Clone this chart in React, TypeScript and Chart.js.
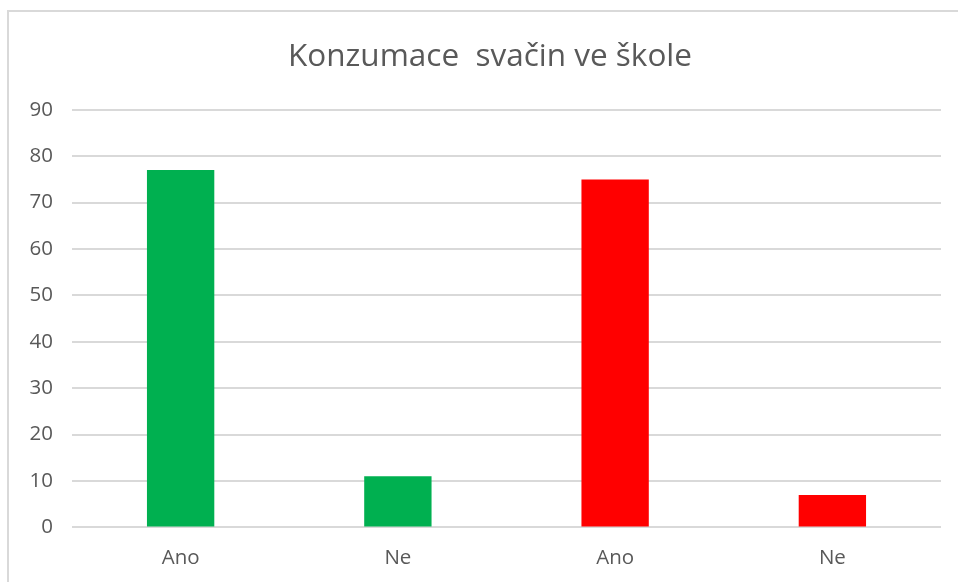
import React, { useEffect, useRef } from "react";
import { Chart, registerables } from "chart.js";

Chart.register(...registerables);

const categories = ["Ano", "Ne", "Ano", "Ne"];
const values = [77, 11, 75, 7];
const barColors = ["#00B050", "#00B050", "#FF0000", "#FF0000"];
const titleText = "Konzumace  svačin ve škole";
const yMin = 0;
const yMax = 90;
const yStep = 10;

const FONT = "'Open Sans', 'Noto Sans', sans-serif";
const TEXT = "#595959";
const GRID = "#d9d9d9";

export default function App() {
  const ref = useRef<HTMLCanvasElement | null>(null);

  useEffect(() => {
    if (!ref.current) return;
    const chart = new Chart(ref.current, {
      type: "bar",
      data: {
        labels: categories,
        datasets: [
          {
            data: values,
            backgroundColor: barColors,
            borderWidth: 0,
            barPercentage: 0.31,
            categoryPercentage: 1,
          },
        ],
      },
      options: {
        animation: false,
        responsive: false,
        maintainAspectRatio: false,
        layout: { padding: { left: 6, right: 0, top: 0, bottom: 0 } },
        plugins: {
          legend: { display: false },
          tooltip: { enabled: false },
          title: {
            display: true,
            text: titleText,
            color: TEXT,
            font: { family: FONT, size: 31.5, weight: "normal" },
            padding: { top: 26, bottom: 34 },
          },
        },
        scales: {
          x: {
            grid: { display: false, drawTicks: false },
            border: { display: false },
            ticks: {
              color: TEXT,
              font: { family: FONT, size: 20.5 },
              padding: 18,
              maxRotation: 0,
            },
          },
          y: {
            min: yMin,
            max: yMax,
            afterFit: (s: any) => {
              s.width = 57;
            },
            grid: { color: GRID, lineWidth: 2, drawTicks: false },
            border: { display: false },
            ticks: {
              stepSize: yStep,
              color: TEXT,
              font: { family: FONT, size: 20.5 },
              padding: 19,
            },
          },
          ySpacer: {
            type: "linear",
            position: "right",
            display: true,
            afterFit: (s: any) => {
              s.width = 24;
            },
            grid: { display: false, drawTicks: false },
            border: { display: false },
            ticks: { display: false },
          },
        },
      },
    });
    return () => chart.destroy();
  }, []);

  return (
    <div
      style={{
        position: "absolute",
        left: 7,
        top: 10,
        width: 960,
        height: 580,
        border: "2px solid #d9d9d9",
        boxSizing: "border-box",
        background: "#fff",
      }}
    >
      <canvas ref={ref} width={956} height={576} style={{ display: "block" }} />
    </div>
  );
}
